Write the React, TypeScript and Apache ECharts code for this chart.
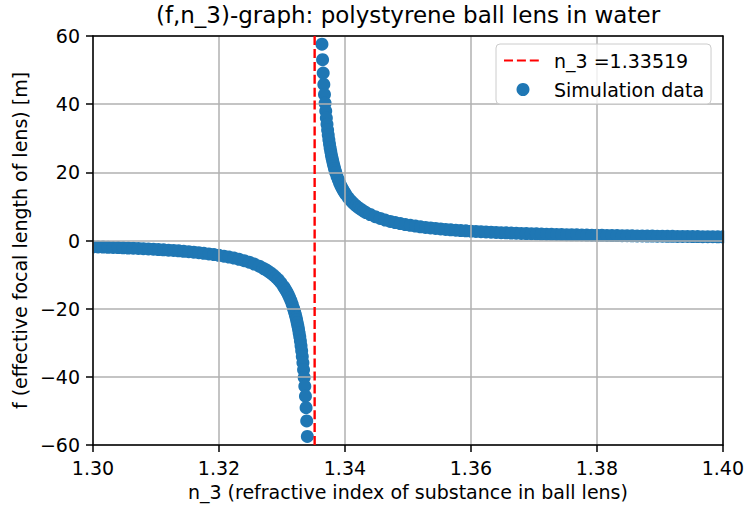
import React, { useEffect, useRef } from "react";
import * as echarts from "echarts";

const chartTitle = "(f,n_3)-graph: polystyrene ball lens in water";
const xAxisName = "n_3 (refractive index of substance in ball lens)";
const yAxisName = "f (effective focal length of lens) [m]";

const asymptoteN3 = 1.33519;
const xRange = [1.3, 1.4];
const xTickStep = 0.02;
const yRange = [-60, 60];
const yTickStep = 20;

// left branch (n_3 below water index), then right branch
const n3Values = [
  1.3, 1.3008, 1.3016, 1.3024, 1.3032, 1.304, 1.3048, 1.3056, 1.3064, 1.3072,
  1.308, 1.3088, 1.3096, 1.3104, 1.3112, 1.312, 1.3128, 1.3136, 1.3144, 1.3152,
  1.316, 1.3168, 1.3176, 1.3184, 1.3192, 1.32, 1.3208, 1.3216, 1.3224, 1.3232,
  1.324, 1.3248, 1.3256, 1.3264,
  1.32703, 1.32743, 1.32783, 1.32823, 1.32863, 1.32903, 1.32943, 1.32983,
  1.33023, 1.33043, 1.33063, 1.33083, 1.33103, 1.33123, 1.33143, 1.33163,
  1.33183, 1.33193, 1.33203, 1.33213, 1.33223, 1.33233, 1.33243, 1.33253,
  1.33263, 1.33273, 1.33283, 1.33293, 1.33303, 1.33313, 1.33323, 1.33333,
  1.33343, 1.33353, 1.33363, 1.33373, 1.33383, 1.33393, 1.33403,
  1.33635, 1.33645, 1.33655, 1.33665, 1.33675, 1.33685, 1.33695, 1.33705,
  1.33715, 1.33725, 1.33735, 1.33745, 1.33755, 1.33765, 1.33775, 1.33785,
  1.33795, 1.33805, 1.33815, 1.33825, 1.33835, 1.33845, 1.33855,
  1.33875, 1.33895, 1.33915, 1.33935, 1.33955, 1.33975, 1.33995, 1.34015,
  1.34055, 1.34095, 1.34135, 1.34175, 1.34215, 1.34255, 1.34295, 1.34335,
  1.344, 1.3448, 1.3456, 1.3464, 1.3472, 1.348, 1.3488, 1.3496, 1.3504, 1.3512,
  1.352, 1.3528, 1.3536, 1.3544, 1.3552, 1.356, 1.3568, 1.3576, 1.3584, 1.3592,
  1.36, 1.3608, 1.3616, 1.3624, 1.3632, 1.364, 1.3648, 1.3656, 1.3664, 1.3672,
  1.368, 1.3688, 1.3696, 1.3704, 1.3712, 1.372, 1.3728, 1.3736, 1.3744, 1.3752,
  1.376, 1.3768, 1.3776, 1.3784, 1.3792, 1.38, 1.3808, 1.3816, 1.3824, 1.3832,
  1.384, 1.3848, 1.3856, 1.3864, 1.3872, 1.388, 1.3888, 1.3896, 1.3904, 1.3912,
  1.392, 1.3928, 1.3936, 1.3944, 1.3952, 1.396, 1.3968, 1.3976, 1.3984, 1.3992,
  1.4,
];

const focalLengths = [
  -1.847, -1.891, -1.937, -1.986, -2.037, -2.09, -2.147, -2.206, -2.269, -2.335,
  -2.405, -2.48, -2.559, -2.643, -2.733, -2.829, -2.932, -3.042, -3.161, -3.29,
  -3.429, -3.58, -3.745, -3.926, -4.125, -4.345, -4.589, -4.862, -5.17, -5.518,
  -5.916, -6.375, -6.911, -7.545,
  -8.15, -8.57, -9.04, -9.55, -10.14, -10.8, -11.55, -12.41,
  -13.43, -13.99, -14.61, -15.28, -16.01, -16.82, -17.71, -18.71,
  -19.85, -20.46, -21.11, -21.8, -22.53, -23.32, -24.17, -25.08,
  -26.05, -27.11, -28.26, -29.51, -30.88, -32.38, -34.03, -35.86,
  -37.9, -40.18, -42.76, -45.68, -49.04, -52.94, -57.5,
  57.61, 53.04, 49.14, 45.77, 42.84, 40.26, 37.97, 35.93,
  34.1, 32.44, 30.94, 29.57, 28.32, 27.17, 26.11, 25.12,
  24.21, 23.37, 22.58, 21.84, 21.15, 20.5, 19.89,
  18.79, 17.79, 16.89, 16.08, 15.34, 14.67, 14.05, 13.49,
  12.5, 11.63, 10.88, 10.21, 9.63, 9.1, 8.63, 8.21,
  7.628, 6.997, 6.463, 6.005, 5.609, 5.262, 4.955, 4.683, 4.439, 4.22,
  4.021, 3.841, 3.676, 3.525, 3.386, 3.258, 3.139, 3.029, 2.926, 2.83,
  2.741, 2.657, 2.578, 2.503, 2.433, 2.367, 2.305, 2.245, 2.189, 2.136,
  2.085, 2.036, 1.99, 1.946, 1.904, 1.864, 1.825, 1.788, 1.753, 1.719,
  1.686, 1.654, 1.624, 1.595, 1.567, 1.54, 1.514, 1.488, 1.464, 1.441,
  1.418, 1.396, 1.374, 1.354, 1.334, 1.314, 1.295, 1.277, 1.259, 1.242,
  1.225, 1.209, 1.193, 1.178, 1.162, 1.148, 1.134, 1.12, 1.106, 1.093,
  1.08,
];

const FONT = "DejaVu Sans";

export default function App() {
  const ref = useRef<HTMLDivElement>(null);

  useEffect(() => {
    document.body.style.margin = "0";
    const chart = echarts.init(ref.current!, null, { renderer: "svg" });
    const points = n3Values.map((n, i) => [n, focalLengths[i]]);
    const lineName = `n_3 =${asymptoteN3}`;
    const gridLeft = 93;
    const gridTop = 36;
    const gridRight = 23.5;
    const gridBottom = 61;

    const hiddenAxis = {
      type: "value",
      z: 3,
      axisLine: { show: true, onZero: false, lineStyle: { color: "#000", width: 1.5 } },
      axisTick: { show: false },
      axisLabel: { show: false },
      splitLine: { show: false },
    };

    chart.setOption({
      animation: false,
      backgroundColor: "#ffffff",
      title: {
        text: chartTitle,
        left: 408,
        top: 3,
        padding: 0,
        textAlign: "center",
        textStyle: { fontFamily: FONT, fontSize: 23, fontWeight: "normal", color: "#000" },
      },
      legend: {
        orient: "vertical",
        left: 496,
        top: 44,
        z: 6,
        itemWidth: 38,
        itemHeight: 13,
        itemGap: 10,
        padding: [7, 7, 5, 7],
        backgroundColor: "rgba(255,255,255,0.8)",
        borderColor: "#cccccc",
        borderWidth: 1,
        borderRadius: 4,
        textStyle: { fontFamily: FONT, fontSize: 19, color: "#000", lineHeight: 19, padding: [0, 0, 0, 7] },
        data: [
          { name: lineName, itemStyle: { opacity: 0 } },
          { name: "Simulation data", icon: "circle" },
        ],
      },
      grid: { left: gridLeft, top: gridTop, right: gridRight, bottom: gridBottom, containLabel: false },
      graphic: [
        { type: "rect", z: 2, shape: { x: 0, y: 215, width: gridLeft - 0.7, height: 60 }, style: { fill: "#fff" } },
        { type: "rect", z: 2, shape: { x: 747 - gridRight + 0.7, y: 205, width: 30, height: 60 }, style: { fill: "#fff" } },
      ],
      xAxis: [
        {
          type: "value",
          position: "bottom",
          min: xRange[0],
          max: xRange[1],
          interval: xTickStep,
          z: 3,
          name: xAxisName,
          nameLocation: "middle",
          nameGap: 37,
          nameTextStyle: { fontFamily: FONT, fontSize: 19, color: "#000" },
          axisLine: { show: true, onZero: false, lineStyle: { color: "#000", width: 1.5 } },
          axisTick: { show: true, inside: false, length: 7, lineStyle: { color: "#000", width: 1.5 } },
          axisLabel: {
            fontFamily: FONT,
            fontSize: 19,
            color: "#000",
            margin: 13,
            formatter: (v: number) => v.toFixed(2),
          },
          splitLine: { show: true, lineStyle: { color: "#b0b0b0", width: 1.5 } },
        },
        { ...hiddenAxis, position: "top", min: xRange[0], max: xRange[1] },
      ],
      yAxis: [
        {
          type: "value",
          position: "left",
          min: yRange[0],
          max: yRange[1],
          interval: yTickStep,
          z: 3,
          name: yAxisName,
          nameLocation: "middle",
          nameGap: 58,
          nameTextStyle: { fontFamily: FONT, fontSize: 19, color: "#000" },
          axisLine: { show: true, onZero: false, lineStyle: { color: "#000", width: 1.5 } },
          axisTick: { show: true, inside: false, length: 7, lineStyle: { color: "#000", width: 1.5 } },
          axisLabel: {
            fontFamily: FONT,
            fontSize: 19,
            color: "#000",
            margin: 13,
            formatter: (v: number) => String(v).replace("-", "\u2212"),
          },
          splitLine: { show: true, lineStyle: { color: "#b0b0b0", width: 1.5 } },
        },
        { ...hiddenAxis, position: "right", min: yRange[0], max: yRange[1] },
      ],
      series: [
        {
          type: "scatter",
          name: "Simulation data",
          data: points,
          symbol: "circle",
          symbolSize: 13,
          itemStyle: { color: "#1f77b4", opacity: 1 },
          z: 1,
        },
        {
          type: "line",
          name: lineName,
          data: [
            [asymptoteN3, yRange[0]],
            [asymptoteN3, yRange[1]],
          ],
          symbol: "none",
          itemStyle: { color: "#ff0000" },
          lineStyle: { color: "#ff0000", width: 2.4, type: [9, 3.9] },
          z: 4,
        },
      ],
    });
    return () => chart.dispose();
  }, []);

  return <div ref={ref} style={{ width: 747, height: 506 }} />;
}
